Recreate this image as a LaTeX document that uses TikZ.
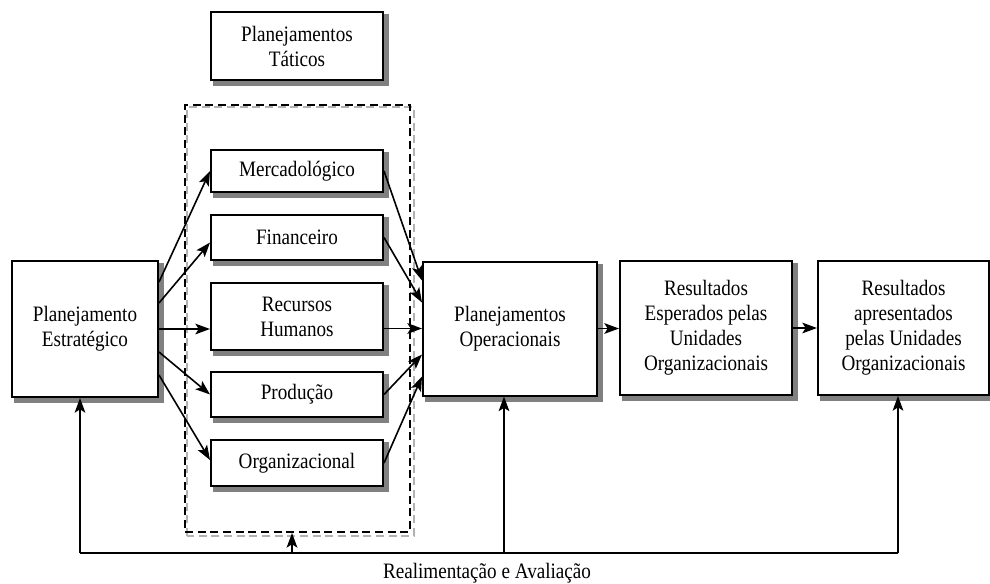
\documentclass[tikz,border=0pt]{standalone}
\usepackage{fontspec}
\setmainfont{Liberation Serif}[FakeStretch=0.87]
\usetikzlibrary{arrows.meta,calc,backgrounds}

\begin{document}
\begin{tikzpicture}[x=0.75pt,y=-0.75pt,
  font=\fontsize{16.5}{18.75}\selectfont,
  box/.style={draw, line width=1.5pt, fill=white, align=center, inner sep=2pt},
  tatbox/.style={box, minimum width=129pt},
  bigbox/.style={box, minimum height=100.5pt},
  grpbox/.style={draw, dashed, dash pattern=on 6pt off 3.5pt, line width=1.4pt},
  link/.style={line width=1.2pt},
  arr/.style={link, -{Stealth[length=11pt,width=8pt,inset=2.5pt]}},
  boxshadow/.style={fill=black!50, draw=black!50, line width=1.5pt},
  lineshadow/.style={draw=black!30, line width=1.2pt},
]
\useasboundingbox (0,0) rectangle (990,583);

% tactical group frame and its title
\node[box, minimum width=129pt, minimum height=51pt] (tact) at (297,46) {Planejamentos\\Táticos};
\node[grpbox, minimum width=168.75pt, minimum height=320.25pt] (grp) at (297.5,318.5) {};

% tactical plans
\node[tatbox, minimum height=31.5pt]  (merc) at (297,171)   {Mercadológico};
\node[tatbox, minimum height=33.75pt] (fin)  at (297,237.5) {Financeiro};
\node[tatbox, minimum height=50.25pt] (rh)   at (297,316.5) {Recursos\\Humanos};
\node[tatbox, minimum height=33.75pt] (prod) at (297,394.5) {Produção};
\node[tatbox, minimum height=34.5pt]  (org)  at (297,463)   {Organizacional};

% main chain
\node[box, minimum width=109.5pt, minimum height=102pt] (est) at (85,329) {Planejamento\\Estratégico};
\node[bigbox, minimum width=130.5pt] (op)  at (510,328.5) {Planejamentos\\Operacionais};
\node[bigbox, minimum width=129pt]   (res) at (706,328)   {Resultados\\Esperados pelas\\Unidades\\Organizacionais};
\node[bigbox, minimum width=128.25pt] (apr) at (903.5,328) {Resultados\\apresentados\\pelas Unidades\\Organizacionais};

% drop shadows behind the boxes and the dashed frame
\begin{pgfonlayer}{background}
  \foreach \n in {tact,merc,fin,rh,prod,org,est,op,res,apr}{
    \path[boxshadow] ([shift={(4,4)}]\n.south west) rectangle ([shift={(4,4)}]\n.north east);
  }
  \draw[lineshadow, dashed, dash pattern=on 6pt off 3.5pt, line width=1.4pt]
    ([shift={(3,3)}]grp.south west) rectangle ([shift={(3,3)}]grp.north east);
\end{pgfonlayer}

% strategic plan feeds the tactical plans
\draw[arr] ($(est.east)+(0,-47)$) -- (merc.west);
\draw[arr] ($(est.east)+(0,-26)$) -- ($(fin.west)+(0,5)$);
\draw[arr] (est.east) -- (est.east -| rh.west);
\draw[arr] ($(est.east)+(0,23)$) -- (prod.west);
\draw[arr] ($(est.east)+(0,46)$) -- ($(org.west)+(0,-3)$);

% tactical plans feed the operational plans
\draw[arr] (merc.east) -- ($(op.west)+(0,-48)$);
\draw[arr] (fin.east) -- ($(op.west)+(0,-26)$);
\draw[arr] (op.west -| rh.east) -- (op.west);
\draw[arr] (prod.east) -- ($(op.west)+(0,26)$);
\draw[arr] (org.east) -- ($(op.west)+(0,48)$);

\draw[arr] (op.east) -- (op.east -| res.west);
\draw[arr] (res.east) -- (res.east -| apr.west);

% feedback loop
\coordinate (fbL) at (80,553);
\coordinate (fbT) at (292,553);
\coordinate (fbM) at (504,553);
\coordinate (fbR) at (898,553);
\draw[link] (fbL) -- (fbR);
\draw[arr] (fbL) -- (fbL |- est.south);
\draw[arr] (fbT) -- (fbT |- grp.south);
\draw[arr] (fbM) -- (fbM |- op.south);
\draw[arr] (fbR) -- (fbR |- apr.south);
\node (lbl) at (487,573) {Realimentação e Avaliação};
\end{tikzpicture}
\end{document}
